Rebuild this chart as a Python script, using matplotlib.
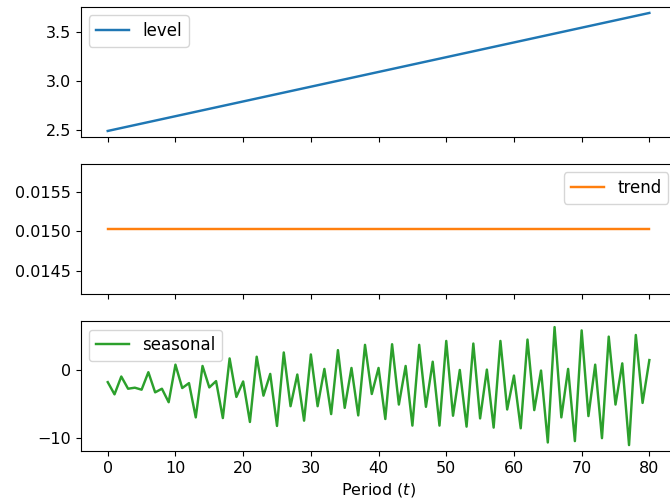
import numpy as np
import matplotlib
matplotlib.use('Agg')
import matplotlib.pyplot as plt

# Период
t_line = [0, 80]
level = [2.49, 3.70]
trend = [0.01503, 0.01503]

t = np.arange(81)
seasonal = [-1.83, -3.61, -1.01, -2.79, -2.64, -2.93, -0.38, -3.32, -2.79, -4.76,
            0.72, -2.69, -1.97, -6.97, 0.53, -2.60, -1.68, -7.07, 1.63, -3.99,
            -1.73, -7.64, 1.88, -3.80, -0.63, -8.22, 2.50, -5.34, -0.72, -7.45,
            2.21, -5.34, 0.10, -6.49, 2.84, -5.58, 0.24, -6.68, 3.61, -3.56,
            0.24, -7.21, 3.70, -5.10, 0.53, -8.17, 3.61, -5.43, 1.15, -8.17,
            4.18, -6.73, -0.05, -8.32, 3.80, -7.12, 0.00, -8.46, 4.18, -5.82,
            -0.87, -8.56, 4.38, -5.91, -0.14, -10.63, 6.20, -6.97, 0.10, -10.43,
            5.72, -6.78, 0.72, -10.00, 4.81, -5.10, 0.91, -11.01, 5.05, -4.86,
            1.39]

plt.rcParams['font.size'] = 11.5
plt.rcParams['legend.fontsize'] = 12
plt.rcParams['lines.linewidth'] = 1.75

fig, axes = plt.subplots(3, 1, sharex=True, figsize=(6.7, 5.03), dpi=100)
axes[0].plot(t_line, level, color='C0', label='level')
axes[0].legend(loc='upper left')
axes[1].plot(t_line, trend, color='C1', label='trend')
axes[1].legend(loc='upper right')
axes[2].plot(t, seasonal, color='C2', label='seasonal')
axes[2].legend(loc='upper left')
axes[2].set_yticks([-10, 0])
axes[2].set_xticks(np.arange(0, 81, 10))
axes[2].set_xlabel('Period ($t$)')
# правый край уходит за кадр, как в оригинале
fig.subplots_adjust(left=0.1204, right=1.0096, top=0.986, bottom=0.1034, hspace=0.21)
fig.savefig('out.png')
